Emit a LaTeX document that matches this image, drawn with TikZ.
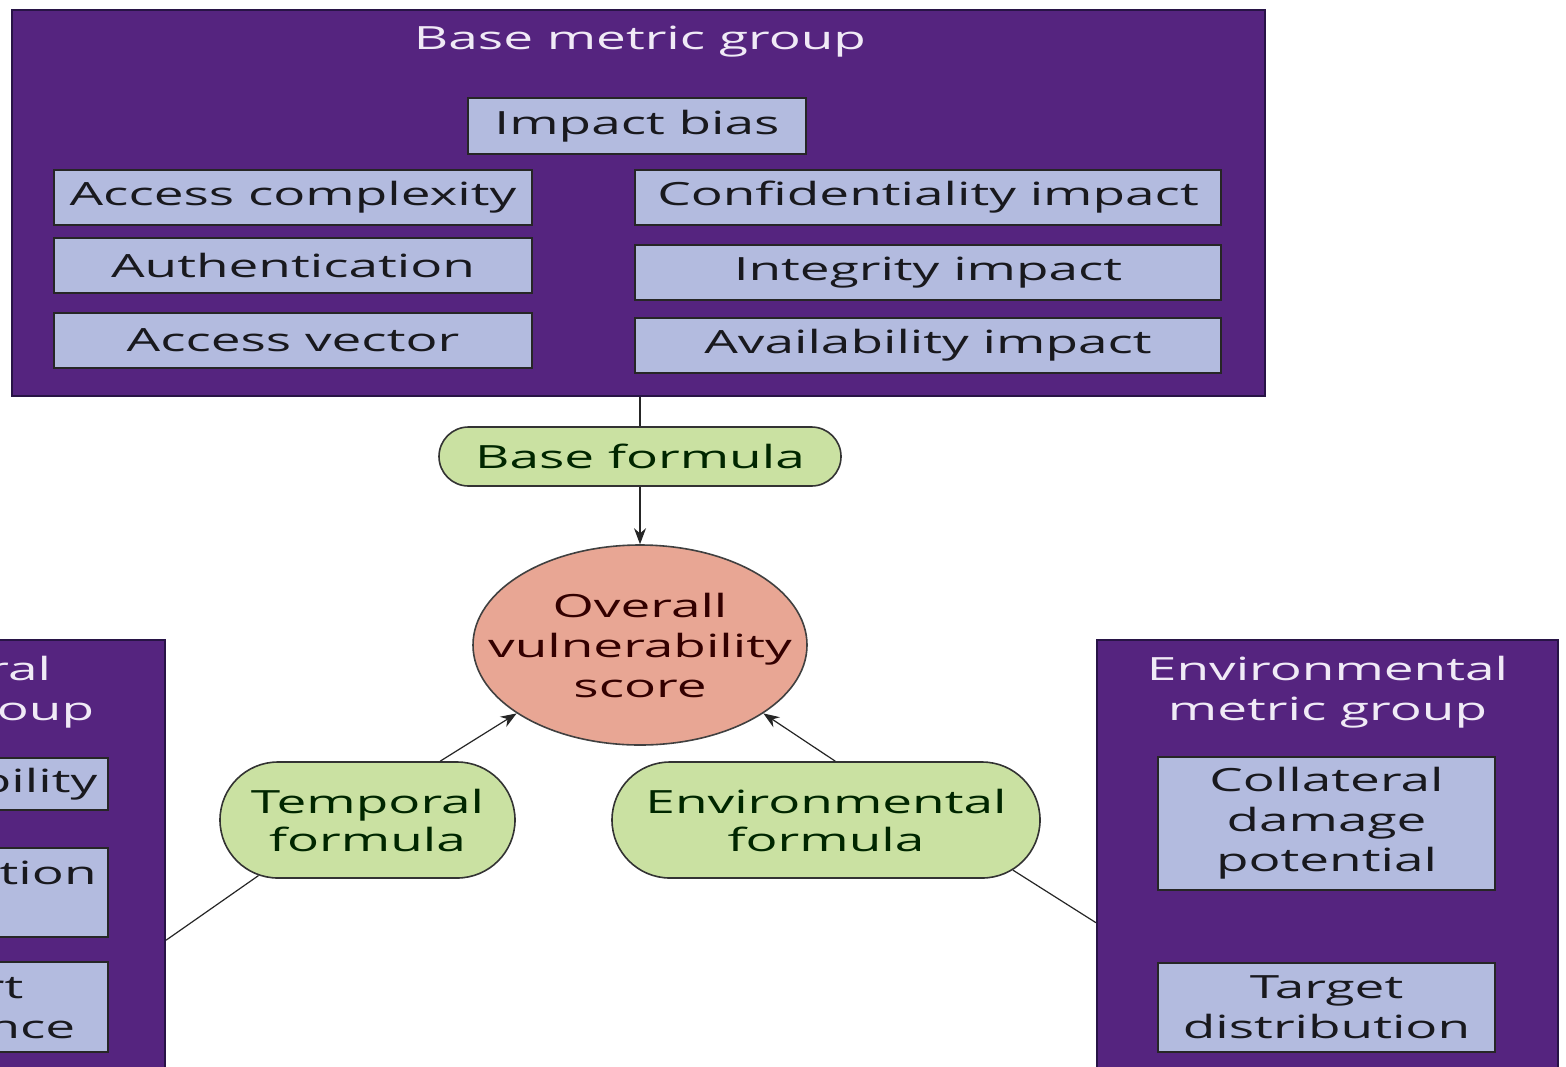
\documentclass[tikz,border=0pt]{standalone}
\usepackage{fontspec}
\setmainfont[FakeStretch=1.66]{Open Sans}
\usetikzlibrary{arrows.meta,shapes.geometric,shapes.misc}

\definecolor{grpfill}{RGB}{85,36,127}
\definecolor{grpline}{RGB}{40,20,70}
\definecolor{itemfill}{RGB}{179,187,223}
\definecolor{formfill}{RGB}{202,225,162}
\definecolor{scorefill}{RGB}{232,166,148}
\definecolor{titletext}{RGB}{240,234,246}
\definecolor{inktext}{RGB}{25,25,30}

\tikzset{
  metricgroup/.style={draw=grpline, line width=1pt, fill=grpfill, rectangle, inner sep=0pt},
  grouptitle/.style={text=titletext, align=center, font=\fontsize{16}{20}\selectfont, inner sep=0pt},
  metricitem/.style={draw=black!85, line width=1.1pt, fill=itemfill, rectangle, inner sep=0pt,
    align=center, text=inktext, font=\fontsize{16}{20}\selectfont},
  formula/.style={draw=black!80, line width=0.8pt, fill=formfill, rounded rectangle, inner sep=0pt,
    align=center, text=black!85!green, font=\fontsize{16}{19}\selectfont},
  scorenode/.style={draw=black!75, line width=0.8pt, fill=scorefill, ellipse, inner sep=0pt},
  scoretext/.style={align=center, text=black!80!red, font=\fontsize{16}{20}\selectfont, inner sep=0pt},
  link/.style={draw=black!85, line width=0.6pt},
  flow/.style={link, -{Stealth[length=8pt,width=6pt]}}
}

\begin{document}
\begin{tikzpicture}[x=0.5pt,y=-0.5pt]
\useasboundingbox (0,0) rectangle (1566,1066);
\fill[white] (0,0) rectangle (1566,1066);
\clip (0,0) rectangle (1566,1066);

% Base metric group
\node[metricgroup, minimum width=626.5pt, minimum height=193pt] (basegrp) at (638.5,203) {};
\node[grouptitle] (basetitle) at (640,42) {Base metric group};
\node[metricitem, minimum width=169pt, minimum height=28pt] (impact) at (637,126) {Impact bias};
\node[metricitem, minimum width=239pt, minimum height=27.5pt] (acccx) at (293,197.5) {Access complexity};
\node[metricitem, minimum width=239pt, minimum height=27.5pt] (auth) at (293,265.5) {Authentication};
\node[metricitem, minimum width=239pt, minimum height=27.5pt] (accvec) at (293,340.5) {Access vector};
\node[metricitem, minimum width=293pt, minimum height=27.5pt] (conf) at (928,197.5) {Confidentiality impact};
\node[metricitem, minimum width=293pt, minimum height=27.5pt] (integ) at (928,272.5) {Integrity impact};
\node[metricitem, minimum width=293pt, minimum height=27.5pt] (avail) at (928,345.5) {Availability impact};

% Temporal metric group
\node[metricgroup, minimum width=230.5pt, minimum height=225pt] (tempgrp) at (-65.5,865) {};
\node[grouptitle] (temptitle) at (-65.5,692) {Temporal\\metric group};
\node[metricitem, minimum width=168.5pt, minimum height=26pt] (expl) at (-60.5,784) {Exploitability};
\node[metricitem, minimum width=168.5pt, minimum height=44.5pt] (remed) at (-60.5,892.5) {Remediation\\level};
\node[metricitem, minimum width=168.5pt, minimum height=45pt] (report) at (-60.5,1007) {Report\\confidence};

% Environmental metric group
\node[metricgroup, minimum width=230.5pt, minimum height=225pt] (envgrp) at (1327.5,865) {};
\node[grouptitle] (envtitle) at (1327.5,692) {Environmental\\metric group};
\node[metricitem, minimum width=168.5pt, minimum height=66.5pt] (coll) at (1326.5,823.5) {Collateral\\damage\\potential};
\node[metricitem, minimum width=168.5pt, minimum height=44.5pt] (target) at (1326.5,1007.5) {Target\\distribution};

% Formulas and score
\node[formula, minimum width=201pt, minimum height=29.5pt] (basef) at (640,456.5) {Base formula};
\node[scorenode, minimum width=167pt, minimum height=100pt] (score) at (640,645) {};
\node[scoretext] (scorelabel) at (score.center) {Overall\\vulnerability\\score};
\node[formula, minimum width=147.5pt, minimum height=58pt] (tempf) at (367.5,820) {Temporal\\formula};
\node[formula, minimum width=214pt, minimum height=58pt] (envf) at (826,820) {Environmental\\formula};

% Connectors
\draw[link] (basef.north |- basegrp.south) -- (basef.north);
\draw[flow] (basef.south) -- (score.north);
\draw[flow] (tempf.39) -- (score.-151);
\draw[flow] (envf.81) -- (score.-29);
\draw[link] (tempf.207) -- (tempgrp.-18);
\draw[link] (envf.-15) -- (envgrp.194.6);
\end{tikzpicture}
\end{document}
